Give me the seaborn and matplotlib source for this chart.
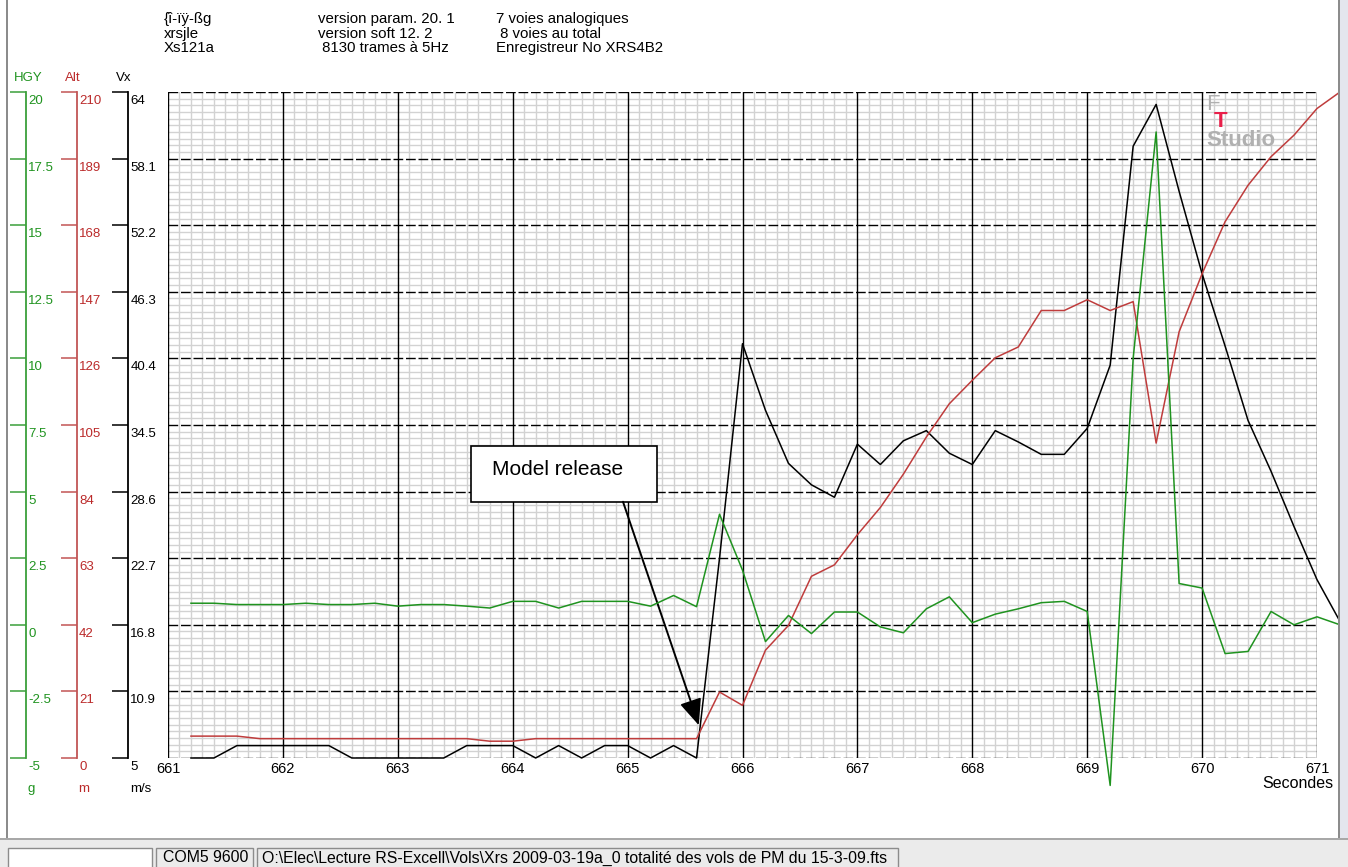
import numpy as np
import matplotlib
matplotlib.use("Agg")
import matplotlib.pyplot as plt
import seaborn as sns
from matplotlib.patches import Rectangle
from matplotlib.ticker import FixedLocator, MultipleLocator

# recorder samples at 5 Hz
t = np.round(np.arange(661.2, 671.21, 0.2), 1)

vx = [5.0, 5.0, 6.1, 6.1, 6.1, 6.1, 6.1, 5.0, 5.0, 5.0,
      5.0, 5.0, 6.1, 6.1, 6.1, 5.0, 6.1, 5.0, 6.1, 6.1,
      5.0, 6.1, 5.0, 22.7, 41.7, 35.8, 31.1, 29.2, 28.1, 32.8,
      31.0, 33.1, 34.0, 32.0, 31.0, 34.0, 33.0, 31.9, 31.9, 34.2,
      39.8, 59.2, 62.9, 55.2, 47.9, 41.5, 34.9, 30.4, 25.5, 20.8,
      17.1]

alt = [6.9, 6.9, 6.9, 6.1, 6.1, 6.1, 6.1, 6.1, 6.1, 6.1,
       6.1, 6.1, 6.1, 5.3, 5.3, 6.1, 6.1, 6.1, 6.1, 6.1,
       6.1, 6.1, 6.1, 20.8, 16.6, 34.0, 41.8, 57.3, 60.9, 70.4,
       79.0, 89.5, 101.2, 111.7, 119.1, 126.2, 129.6, 141.1, 141.1, 144.5,
       141.1, 143.9, 99.3, 134.4, 152.7, 169.1, 180.6, 189.6, 196.4, 204.8,
       210.0]

hgy = [0.81, 0.81, 0.76, 0.76, 0.76, 0.81, 0.76, 0.76, 0.81, 0.70,
       0.76, 0.76, 0.70, 0.63, 0.88, 0.88, 0.63, 0.88, 0.88, 0.88,
       0.70, 1.10, 0.68, 4.15, 2.05, -0.63, 0.35, -0.33, 0.48, 0.48,
       -0.08, -0.30, 0.60, 1.05, 0.08, 0.40, 0.60, 0.83, 0.88, 0.50,
       -6.03, 10.0, 18.5, 1.55, 1.38, -1.08, -1.0, 0.50, 0.0, 0.30,
       0.0]

x_ticks = [661, 662, 663, 664, 665, 666, 667, 668, 669, 670, 671]
hgy_ticks = [-5, -2.5, 0, 2.5, 5, 7.5, 10, 12.5, 15, 17.5, 20]
alt_ticks = [0, 21, 42, 63, 84, 105, 126, 147, 168, 189, 210]
vx_ticks = [5, 10.9, 16.8, 22.7, 28.6, 34.5, 40.4, 46.3, 52.2, 58.1, 64]

header = [
    ["{î-ïÿ-ßg", "xrsjle", "Xs121a"],
    ["version param. 20. 1", "version soft 12. 2", " 8130 trames à 5Hz"],
    ["7 voies analogiques", " 8 voies au total", "Enregistreur No XRS4B2"],
]

GREEN = "#1f931f"
GREEN_AX = "#3a9f3a"
RED = "#bf3c3c"
RED_AX = "#c25555"

plt.rcParams['font.family'] = ['Liberation Sans', 'DejaVu Sans']

W, H = 1348, 867
fig = plt.figure(figsize=(W / 100, H / 100), dpi=100)


def fx(px):
    return px / W


def fy(py):
    return 1 - py / H


L, R, T, B = 168, 1317, 92, 758
pos = [fx(L), fy(B), (R - L) / W, (B - T) / H]

# fine paper grid underneath everything
ax_bg = fig.add_axes(pos)
ax_bg.set_xlim(661, 671)
ax_bg.set_ylim(5, 64)
ax_bg.xaxis.set_major_locator(FixedLocator(x_ticks))
ax_bg.yaxis.set_major_locator(FixedLocator(vx_ticks))
ax_bg.xaxis.set_minor_locator(MultipleLocator(0.1))
ax_bg.yaxis.set_minor_locator(FixedLocator(np.linspace(5, 64, 101)))
ax_bg.grid(which='minor', color='#d2d2d2', lw=1.0)
ax_bg.tick_params(which='both', length=0, labelbottom=False, labelleft=False)
for s in ax_bg.spines.values():
    s.set_visible(False)

# main axes: Vx scale, major grid
ax = fig.add_axes(pos)
ax.patch.set_visible(False)
ax_alt = ax.twinx()
ax_g = ax.twinx()
sns.lineplot(x=t, y=vx, ax=ax, color="black", lw=1.1, clip_on=False, zorder=5)
sns.lineplot(x=t, y=alt, ax=ax_alt, color=RED, lw=1.1, clip_on=False, zorder=5)
sns.lineplot(x=t, y=hgy, ax=ax_g, color=GREEN, lw=1.1, clip_on=False, zorder=5)

ax.set_xlim(661, 671)
ax.set_ylim(5, 64)
ax_alt.set_ylim(0, 210)
ax_g.set_ylim(-5, 20)
ax_alt.set_axis_off()
ax_g.set_axis_off()

ax.xaxis.set_major_locator(FixedLocator(x_ticks))
ax.yaxis.set_major_locator(FixedLocator(vx_ticks))
ax.grid(which='major', axis='x', color='black', lw=1.0, ls='-')
ax.grid(which='major', axis='y', color='black', lw=1.0, ls=(0, (7, 2)))
ax.set_axisbelow(True)
ax.tick_params(which='both', length=0)
ax.tick_params(axis='x', labelsize=10.5, pad=3)
ax.tick_params(axis='y', labelleft=False)
ax.set_xlabel("")
ax.set_ylabel("")
for s in ax.spines.values():
    s.set_visible(False)


# the three scales on the left
def scale_axis(xs, ticks, color, txtcolor, name, unit):
    sa = fig.add_axes([fx(xs - 16), fy(B), 16 / W, (B - T) / H])
    sa.set_ylim(ticks[0], ticks[-1])
    sa.patch.set_visible(False)
    for side in ['left', 'top', 'bottom']:
        sa.spines[side].set_visible(False)
    sa.spines['right'].set_color(color)
    sa.spines['right'].set_linewidth(1.3)
    sa.set_xticks([])
    sa.yaxis.tick_right()
    sa.set_yticks(ticks)
    sa.tick_params(axis='y', direction='in', length=11.5, width=1.1,
                   color=color, labelright=False)
    for v in ticks:
        sa.annotate(f"{v:g}", xy=(1, v), xycoords=('axes fraction', 'data'),
                    xytext=(1.8, -2.2), textcoords='offset points',
                    ha='left', va='top', fontsize=9.5, color=txtcolor,
                    annotation_clip=False)
    fig.text(fx(xs - 12), fy(78), name, color=txtcolor, fontsize=9.5,
             ha='left', va='center')
    fig.text(fx(xs + 2), fy(789), unit, color=txtcolor, fontsize=9.5,
             ha='left', va='center')


scale_axis(25.7, hgy_ticks, GREEN_AX, "#1f931f", "HGY", "g")
scale_axis(76.5, alt_ticks, RED_AX, "#bb2a2a", "Alt", "m")
scale_axis(127.7, vx_ticks, "black", "black", "Vx", "m/s")

fig.text(fx(1333), fy(783), "Secondes", fontsize=11.5, ha='right', va='center')

# header block
col_x = [164, 318, 496]
row_y = [19, 34, 48]
for cx, col in zip(col_x, header):
    for ry, txt in zip(row_y, col):
        fig.text(fx(cx), fy(ry), txt, fontsize=10.8, ha='left', va='center')

# logo
fig.text(fx(1206), fy(105), "F", fontsize=16, color="#b0b0b0", ha='left', va='center')
fig.text(fx(1214), fy(121), "T", fontsize=16, color="#e8204a", fontweight='bold',
         ha='left', va='center')
fig.text(fx(1206), fy(141), "Studio", fontsize=16, color="#b0b0b0", fontweight='bold',
         ha='left', va='center')

# release annotation
ax.add_patch(Rectangle((663.64, 27.7), 1.62, 4.9, facecolor='white',
                       edgecolor='black', lw=1.2, zorder=6))
ax.text(663.82, 30.57, "Model release", fontsize=15, ha='left', va='center', zorder=7)
ax.annotate("", xy=(665.62, 7.9), xytext=(664.96, 27.7),
            arrowprops=dict(arrowstyle='-|>,head_length=0.4,head_width=0.17',
                            mutation_scale=40, color='black', lw=1.4,
                            shrinkA=0, shrinkB=0),
            zorder=7, annotation_clip=False)


# window chrome
def fig_rect(x0, y0, x1, y1, **kw):
    fig.add_artist(Rectangle((fx(x0), fy(y1)), (x1 - x0) / W, (y1 - y0) / H,
                             transform=fig.transFigure, **kw))


fig_rect(6, 0, 7.5, 838, facecolor='#8c8c8c', edgecolor='none')
fig_rect(1338, 0, 1348, 838, facecolor='#e4e6ee', edgecolor='none')
fig_rect(1338, 0, 1339.5, 838, facecolor='#8c8c8c', edgecolor='none')
fig_rect(0, 838, W, H, facecolor='#ebebeb', edgecolor='none')
fig_rect(0, 838, W, 839.5, facecolor='#a8a8a8', edgecolor='none')
fig_rect(8, 848, 152, H + 2, facecolor='white', edgecolor='#8c8c8c', lw=1)
fig_rect(156, 848, 253, H + 2, facecolor='#ebebeb', edgecolor='#8c8c8c', lw=1)
fig_rect(257, 848, 898, H + 2, facecolor='#ebebeb', edgecolor='#8c8c8c', lw=1)
fig.text(fx(163), fy(858), "COM5 9600", fontsize=11.4, ha='left', va='center')
fig.text(fx(262), fy(858),
         "O:\\Elec\\Lecture RS-Excell\\Vols\\Xrs 2009-03-19a_0 totalité des vols de PM du 15-3-09.fts",
         fontsize=11.4, ha='left', va='center')

fig.savefig("out.png", dpi=100)
